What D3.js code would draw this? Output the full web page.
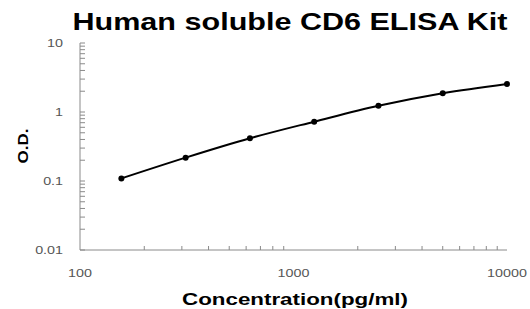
<!DOCTYPE html>
<html>
<head>
<meta charset="utf-8">
<script src="https://cdn.jsdelivr.net/npm/d3@7"></script>
<style>
  body { margin: 0; background: #fff; }
  text { font-family: "Liberation Sans", Arial, sans-serif; }
</style>
</head>
<body>
<svg></svg>
<script>
// standard curve data
var concentration = [156.25, 312.5, 625, 1250, 2500, 5000, 10000]
var od = [0.109, 0.218, 0.416, 0.724, 1.23, 1.87, 2.55]
var xTickValues = [100, 1000, 10000]
var yTickValues = [0.01, 0.1, 1, 10]

var width = 530, height = 309
var margin = { left: 80, right: 23, top: 43, bottom: 59 }

var svg = d3.select("svg")
    .attr("width", width)
    .attr("height", height)

var x = d3.scaleLog().domain([100, 10000]).range([margin.left, width - margin.right])
var y = d3.scaleLog().domain([0.01, 10]).range([height - margin.bottom, margin.top])

// the original picture is stretched sideways, so widen text a bit
function stretch(sel, factor) {
    sel.each(function () {
        var w = this.getComputedTextLength()
        d3.select(this).attr("textLength", w * factor).attr("lengthAdjust", "spacingAndGlyphs")
    })
}

// minor ticks 2..9 per decade
function minorTicks(lo, hi) {
    var out = []
    for (var d = lo; d < hi; d *= 10)
        for (var k = 2; k <= 9; k++) out.push(d * k)
    return out
}

var axisColor = "#8a8a8a"

// x axis (ticks point inward)
var gx = svg.append("g").attr("transform", "translate(0," + y(0.01) + ")")
gx.append("line").attr("x1", x(100)).attr("x2", x(10000)).attr("stroke", axisColor)
gx.selectAll(".minor").data(minorTicks(100, 10000)).enter().append("line")
    .attr("x1", d => x(d)).attr("x2", d => x(d))
    .attr("y1", 0).attr("y2", -4)
    .attr("stroke", axisColor)
gx.selectAll(".lab").data(xTickValues).enter().append("text")
    .attr("x", d => x(d)).attr("y", 27)
    .attr("text-anchor", "middle")
    .attr("font-size", 11).attr("fill", "#555")
    .text(d => d)
    .call(stretch, 1.3)

// y axis
var gy = svg.append("g").attr("transform", "translate(" + x(100) + ",0)")
gy.append("line").attr("y1", y(0.01)).attr("y2", y(10)).attr("stroke", axisColor)
gy.selectAll(".minor").data(minorTicks(0.01, 10).concat(yTickValues)).enter().append("line")
    .attr("y1", d => y(d)).attr("y2", d => y(d))
    .attr("x1", 0).attr("x2", 5)
    .attr("stroke", axisColor)
gy.selectAll(".lab").data(yTickValues).enter().append("text")
    .attr("x", -17).attr("y", d => y(d))
    .attr("dy", "0.35em")
    .attr("text-anchor", "end")
    .attr("font-size", 11).attr("fill", "#555")
    .text(d => d)
    .call(stretch, 1.3)

// curve
var line = d3.line()
    .x((d, i) => x(concentration[i]))
    .y(d => y(d))
    .curve(d3.curveMonotoneX)

svg.append("path")
    .attr("d", line(od))
    .attr("fill", "none")
    .attr("stroke", "#000")
    .attr("stroke-width", 2)

svg.selectAll(".pt").data(od).enter().append("circle")
    .attr("cx", (d, i) => x(concentration[i]))
    .attr("cy", d => y(d))
    .attr("r", 3)
    .attr("fill", "#000")

// titles
svg.append("text")
    .attr("x", 290).attr("y", 30)
    .attr("text-anchor", "middle")
    .attr("font-size", 24).attr("font-weight", "bold")
    .attr("textLength", 435).attr("lengthAdjust", "spacingAndGlyphs")
    .text("Human soluble CD6 ELISA Kit")

svg.append("text")
    .attr("x", 295).attr("y", 305)
    .attr("text-anchor", "middle")
    .attr("font-size", 17).attr("font-weight", "bold")
    .attr("textLength", 226).attr("lengthAdjust", "spacingAndGlyphs")
    .text("Concentration(pg/ml)")

svg.append("text")
    .attr("transform", "translate(28,146) rotate(-90)")
    .attr("text-anchor", "middle")
    .attr("font-size", 15).attr("font-weight", "bold")
    .attr("textLength", 35).attr("lengthAdjust", "spacingAndGlyphs")
    .text("O.D.")
</script>
</body>
</html>
